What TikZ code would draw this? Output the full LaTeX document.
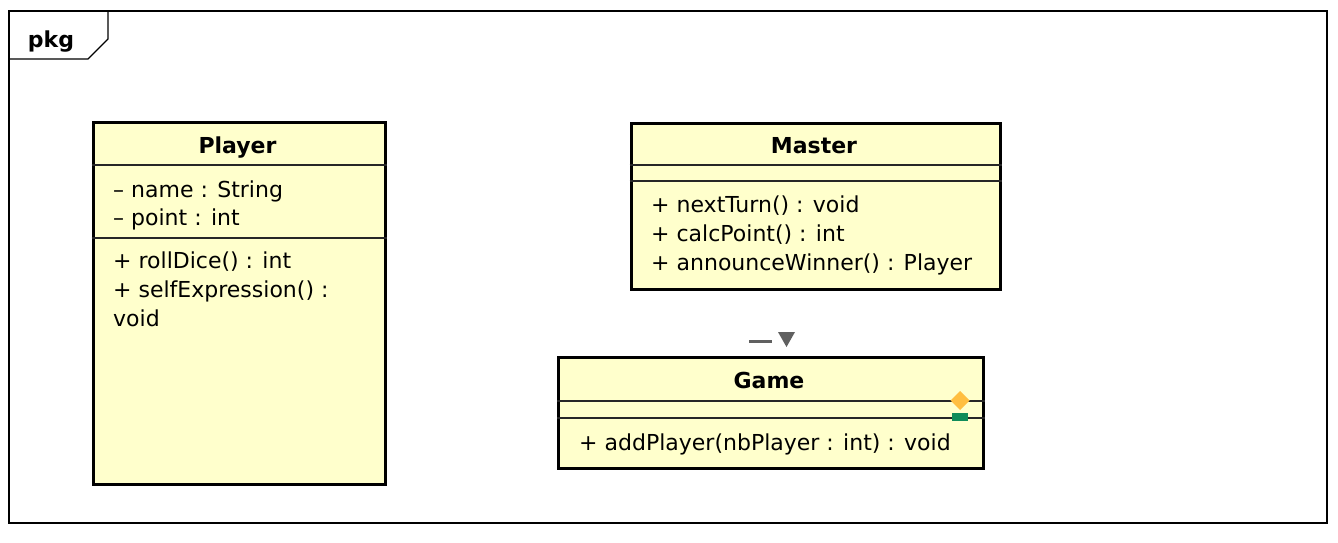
\documentclass[tikz,border=0pt]{standalone}
\usepackage{fontspec}
\setmainfont{DejaVu Sans}
\usepackage{xcolor}
\usetikzlibrary{positioning}
\definecolor{UMLYellow}{RGB}{255,255,204}
\definecolor{UMLOrange}{RGB}{255,190,64}
\definecolor{UMLGreen}{RGB}{16,140,90}
\definecolor{UMLGray}{RGB}{96,96,96}
\tikzset{
    classbox/.style={rectangle, draw=black, fill=UMLYellow, line width=3pt, anchor=north west, inner sep=0pt},
    classname/.style={font=\bfseries\fontsize{22}{26}\selectfont, anchor=base, inner sep=0pt},
    member/.style={font=\fontsize{22}{26}\selectfont, anchor=base west, inner sep=0pt},
    sepline/.style={draw=black!85, line width=1.3pt}
}

\begin{document}
\begin{tikzpicture}[
        x=1pt, y=-1pt,
        % --- KHUNG GÓI ---
        frame/.style={draw=black, line width=1.4pt},
        % --- DẤU HIỆU NHỎ ---
        mark gray/.style={fill=UMLGray, draw=none},
        mark orange/.style={fill=UMLOrange, draw=none},
        mark green/.style={fill=UMLGreen, draw=none}
    ]
    \useasboundingbox (0,0) rectangle (1338,542);

    % --- KHUNG pkg ---
    \draw[frame] (9,11) rectangle (1327,523);
    \draw[frame] (9,59) -- (88,59) -- (108,39) -- (108,11);
    \node[font=\bfseries\fontsize{22}{26}\selectfont, anchor=base, inner sep=0pt] (pkg) at (51,47) {pkg};

    % --- LỚP Player ---
    \node[classbox, minimum width=292pt, minimum height=362pt] (player) at (91.5,121) {};
    \draw[sepline] (player.west |- 0,165) -- (player.east |- 0,165);
    \draw[sepline] (player.west |- 0,238) -- (player.east |- 0,238);
    \node[classname] (player-name) at (237.5,153) {Player};
    \node[member] (player-a1) at (113,197) {-- name : String};
    \node[member] (player-a2) at (113,225) {-- point : int};
    \node[member] (player-m1) at (113,268) {+ rollDice() : int};
    \node[member] (player-m2) at (113,297) {+ selfExpression() :};
    \node[member] (player-m3) at (113,326) {void};

    % --- LỚP Master ---
    \node[classbox, minimum width=369pt, minimum height=166pt] (master) at (629.5,122) {};
    \draw[sepline] (master.west |- 0,165) -- (master.east |- 0,165);
    \draw[sepline] (master.west |- 0,181) -- (master.east |- 0,181);
    \node[classname] (master-name) at (814,153) {Master};
    \node[member] (master-m1) at (651,212) {+ nextTurn() : void};
    \node[member] (master-m2) at (651,241) {+ calcPoint() : int};
    \node[member] (master-m3) at (651,270) {+ announceWinner() : Player};

    % --- LỚP Game ---
    \node[classbox, minimum width=425pt, minimum height=111pt] (game) at (557,356) {};
    \draw[sepline] (game.west |- 0,401) -- (game.east |- 0,401);
    \draw[sepline] (game.west |- 0,418) -- (game.east |- 0,418);
    \node[classname] (game-name) at (769,388) {Game};
    \node[member] (game-m1) at (579,450) {+ addPlayer(nbPlayer : int) : void};

    % --- KÝ HIỆU TRÊN Game ---
    \fill[mark gray] (749,339.5) rectangle (772,342.5);
    \fill[mark gray] (778,332) -- (795,332) -- (786.5,347) -- cycle;
    \fill[mark orange] (960,391) -- (969.5,400.5) -- (960,410) -- (950.5,400.5) -- cycle;
    \fill[mark green] (952,413) rectangle (968,421);

\end{tikzpicture}
\end{document}
